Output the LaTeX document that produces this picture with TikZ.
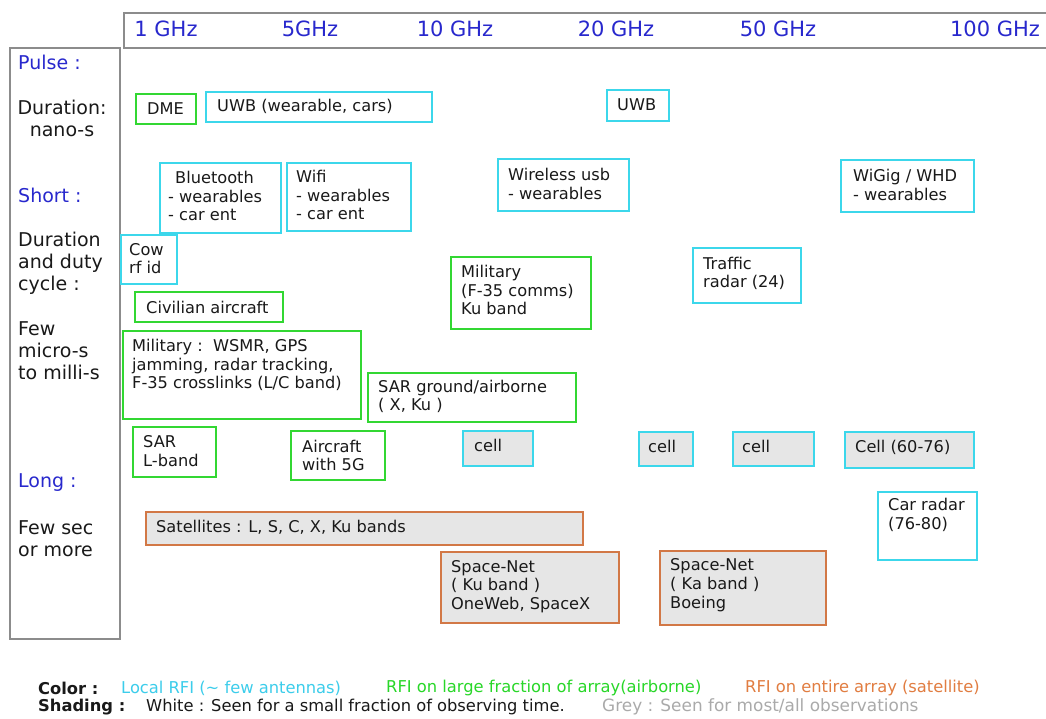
\documentclass[tikz,border=0pt]{standalone}
\usepackage{fontspec}
\setmainfont{DejaVu Sans}
\definecolor{cyanb}{RGB}{60,215,235}
\definecolor{greenb}{RGB}{50,215,50}
\definecolor{orangeb}{RGB}{210,120,70}
\definecolor{greyfill}{RGB}{230,230,230}
\definecolor{framegrey}{RGB}{140,140,140}
\definecolor{hblue}{RGB}{40,40,205}
\definecolor{legcyan}{RGB}{60,205,235}
\definecolor{leggreen}{RGB}{40,215,40}
\definecolor{legorange}{RGB}{225,125,65}
\definecolor{leggrey}{RGB}{170,170,170}
\definecolor{ink}{RGB}{25,25,25}
\tikzset{
  frame/.style={draw=framegrey, line width=1.5pt, inner sep=0pt},
  cbox/.style={draw=cyanb, line width=2pt, fill=white, inner sep=0pt},
  gbox/.style={draw=greenb, line width=2pt, fill=white, inner sep=0pt},
  cgbox/.style={draw=cyanb, line width=2pt, fill=greyfill, inner sep=0pt},
  ogbox/.style={draw=orangeb, line width=2pt, fill=greyfill, inner sep=0pt},
  txt/.style={font=\fontsize{16.2}{18.8}\selectfont, text=ink, align=left, inner sep=0pt},
  head/.style={font=\fontsize{21}{25}\selectfont, text=hblue, inner sep=0pt},
  side/.style={font=\fontsize{19}{22}\selectfont, text=ink, inner sep=0pt},
  sideblue/.style={side, text=hblue},
  leg/.style={font=\fontsize{16.3}{18}\selectfont, text=ink, inner sep=0pt, anchor=west},
}
% name, x1, y1, x2, y2, style, pad, text, yshift(up)
\newcommand{\rbox}[9]{%
  \node[#6, anchor=north west, minimum width={#4-#2}, minimum height={#5-#3}] (#1) at (#2,#3) {};
  \node[txt, anchor=west] (#1t) at ([xshift=#7pt, yshift=#9pt]#1.west) {#8};
}
\begin{document}
\begin{tikzpicture}[x=1pt, y=-1pt]
\useasboundingbox (0,0) rectangle (1046,718);
\fill[white] (0,0) rectangle (1046,718);

% header
\node[frame, anchor=north west, minimum width=930, minimum height=35] (header) at (123,12) {};
\node[head] (f1) at (166,29) {1 GHz};
\node[head] (f5) at (310,29) {5GHz};
\node[head] (f10) at (455,29) {10 GHz};
\node[head] (f20) at (616,29) {20 GHz};
\node[head] (f50) at (778,29) {50 GHz};
\node[head] (f100) at (995,29) {100 GHz};

% left frame
\node[frame, anchor=north west, minimum width=110, minimum height=591] (left) at (9,47) {};
\node[sideblue, anchor=west] (pulse) at (18,62) {Pulse :};
\node[side, align=center] (dur1) at (62,118) {Duration:\\nano-s};
\node[sideblue, anchor=west] (short) at (18,195) {Short :};
\node[side, align=left, anchor=north west] (dur2) at (18,232) {Duration\\and duty\\cycle :};
\node[side, align=left, anchor=north west] (few) at (18,321) {Few\\micro-s\\to milli-s};
\node[sideblue, anchor=west] (long) at (18,483) {Long :};
\node[side, align=left, anchor=north west] (fewsec) at (18,520) {Few sec\\or more};

% boxes
\rbox{dme}{135}{93}{195}{123}{gbox}{12}{DME}{0}
\rbox{uwba}{205}{91}{431}{121}{cbox}{12}{UWB (wearable, cars)}{1}
\rbox{uwbb}{606}{89}{668}{120}{cbox}{11}{UWB}{1}
\rbox{bt}{159}{162}{280}{232}{cbox}{9}{\hspace*{7pt}Bluetooth\\- wearables\\- car ent}{2}
\rbox{wifi}{286}{162}{410}{230}{cbox}{10}{Wifi\\- wearables\\- car ent}{2}
\rbox{wusb}{497}{158}{628}{210}{cbox}{11}{Wireless usb\\- wearables}{1}
\rbox{wigig}{840}{159}{973}{211}{cbox}{13}{WiGig / WHD\\- wearables}{1}
\rbox{cow}{120}{234}{176}{283}{cbox}{9}{Cow\\rf id}{1}
\rbox{civ}{134}{291}{282}{321}{gbox}{12}{Civilian aircraft}{0}
\rbox{milku}{450}{256}{590}{328}{gbox}{11}{Military\\(F-35 comms)\\Ku band}{3}
\rbox{traffic}{692}{247}{800}{302}{cbox}{11}{Traffic\\radar (24)}{2}
\rbox{wsmr}{122}{330}{360}{418}{gbox}{10}{Military :\ \ WSMR, GPS\\jamming, radar tracking,\\F-35 crosslinks (L/C band)}{10}
\rbox{sarg}{367}{372}{575}{421}{gbox}{11}{SAR ground/airborne\\( X, Ku )}{1}
\rbox{sarl}{132}{426}{215}{476}{gbox}{11}{SAR\\L-band}{1}
\rbox{acg}{290}{430}{384}{479}{gbox}{12}{Aircraft\\with 5G}{0}
\rbox{cella}{462}{430}{532}{465}{cgbox}{12}{cell}{3}
\rbox{cellb}{638}{431}{692}{465}{cgbox}{10}{cell}{3}
\rbox{cellc}{732}{431}{813}{465}{cgbox}{10}{cell}{3}
\rbox{celld}{844}{431}{973}{467}{cgbox}{11}{Cell (60-76)}{3}
\rbox{carr}{877}{491}{976}{559}{cbox}{11}{Car radar\\(76-80)}{11}
\rbox{sat}{145}{511}{582}{544}{ogbox}{11}{Satellites : L, S, C, X, Ku bands}{1}
\rbox{snku}{440}{551}{618}{622}{ogbox}{11}{Space-Net\\( Ku band )\\OneWeb, SpaceX}{1}
\rbox{snka}{659}{550}{825}{624}{ogbox}{11}{Space-Net\\( Ka band )\\Boeing}{3}

% legend
\node[leg, font=\fontsize{16.3}{18}\selectfont\bfseries] (lcolor) at (38,688) {Color :};
\node[leg, text=legcyan] (lcyan) at (121,688) {Local RFI (\textasciitilde{} few antennas)};
\node[leg, text=leggreen] (lgreen) at (386,688) {RFI on large fraction of array(airborne)};
\node[leg, text=legorange] (lorange) at (745,688) {RFI on entire array (satellite)};
\node[leg, font=\fontsize{16.3}{18}\selectfont\bfseries] (lshade) at (38,707) {Shading :};
\node[leg] (lwhite) at (146,707) {White : Seen for a small fraction of observing time.};
\node[leg, text=leggrey, font=\fontsize{16.9}{18}\selectfont] (lgrey) at (602,707) {Grey : Seen for most/all observations};
\end{tikzpicture}
\end{document}
